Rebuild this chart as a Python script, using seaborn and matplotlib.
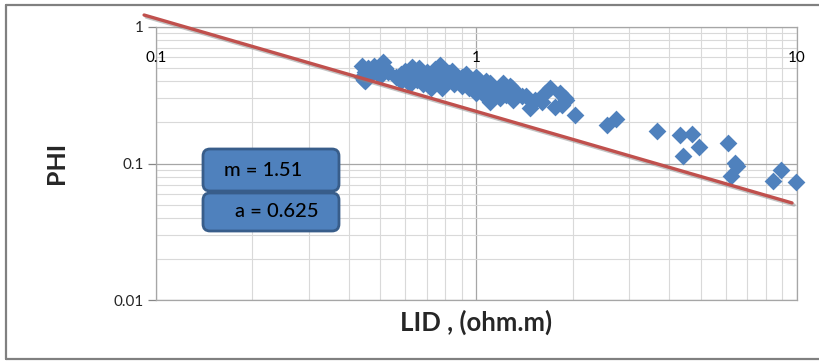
import numpy as np
import pandas as pd
import matplotlib
matplotlib.use("Agg")
import matplotlib.pyplot as plt
import matplotlib.patheffects as pe
from matplotlib.patches import FancyBboxPatch
from matplotlib.lines import Line2D
from matplotlib.transforms import IdentityTransform, blended_transform_factory
import seaborn as sns

# ---------------- data ----------------
lid = [0.44, 0.45, 0.44, 0.46, 0.47, 0.48, 0.49, 0.50, 0.45, 0.52, 0.53, 0.445, 0.51,
       0.58, 0.58, 0.60, 0.61, 0.62, 0.64, 0.65, 0.66, 0.67, 0.68, 0.70, 0.71, 0.72,
       0.74, 0.75, 0.76, 0.77, 0.78, 0.80, 0.80, 0.77, 0.56, 0.63, 0.69,
       0.82, 0.83, 0.85, 0.86, 0.88, 0.90, 0.90, 0.92, 0.94, 0.95, 0.84, 0.93,
       0.97, 0.99, 1.00, 1.03, 1.05, 1.07, 1.08, 1.00, 1.10, 1.04, 1.02,
       1.12, 1.15, 1.18, 1.20, 1.24, 1.27, 1.30, 1.33, 1.10, 1.21, 1.29, 1.15, 1.25,
       1.39, 1.47, 1.52, 1.60, 1.64, 1.70, 1.76, 1.82, 1.89, 1.85, 1.90, 1.43,
       2.03, 2.55, 2.72, 3.66, 4.31, 4.70, 4.41, 4.94, 6.09, 6.41, 6.50, 6.22,
       8.91, 8.41, 9.94]
phi = [0.52, 0.47, 0.43, 0.50, 0.45, 0.52, 0.47, 0.44, 0.40, 0.50, 0.47, 0.41, 0.55,
       0.45, 0.40, 0.48, 0.43, 0.38, 0.46, 0.41, 0.50, 0.44, 0.38, 0.47, 0.42, 0.36,
       0.49, 0.44, 0.40, 0.52, 0.36, 0.47, 0.42, 0.53, 0.43, 0.51, 0.40,
       0.46, 0.41, 0.38, 0.44, 0.40, 0.43, 0.37, 0.39, 0.42, 0.36, 0.48, 0.45,
       0.40, 0.36, 0.33, 0.38, 0.34, 0.40, 0.31, 0.43, 0.39, 0.33, 0.41,
       0.36, 0.33, 0.30, 0.35, 0.32, 0.37, 0.29, 0.33, 0.28, 0.39, 0.36, 0.33, 0.34,
       0.31, 0.255, 0.29, 0.28, 0.33, 0.36, 0.26, 0.33, 0.30, 0.27, 0.29, 0.31,
       0.226, 0.191, 0.212, 0.173, 0.162, 0.164, 0.1135, 0.132, 0.141, 0.101, 0.096, 0.081,
       0.0896, 0.0744, 0.0732]

line_lid = [0.0918, 9.65]
line_phi = [1.224, 0.0514]

x_ticks = [0.1, 1, 10]
x_tick_labels = ["0.1", "1", "10"]
y_ticks = [0.01, 0.1, 1]
y_tick_labels = ["0.01", "0.1", "1"]

box_texts = ["m = 1.51", "a = 0.625"]

# ---------------- style ----------------
sns.set_theme(style="white")
plt.rcParams["font.family"] = ["Lato", "DejaVu Sans"]

W, H = 820, 362
fig = plt.figure(figsize=(W / 100, H / 100), dpi=100)
fig.patch.set_facecolor("white")

L, R, T, B = 156, 797, 27, 300
ax = fig.add_axes([L / W, (H - B) / H, (R - L) / W, (B - T) / H])
ax.set_xscale("log")
ax.set_yscale("log")
ax.set_xlim(0.1, 10)
ax.set_ylim(0.01, 1)

df = pd.DataFrame({"LID": lid, "PHI": phi})
sns.scatterplot(data=df, x="LID", y="PHI", marker="D", color="#4F81BD",
                s=82, linewidth=0, ax=ax, zorder=3, clip_on=False)

ldf = pd.DataFrame({"LID": line_lid, "PHI": line_phi})
sns.lineplot(data=ldf, x="LID", y="PHI", color="#C0504D", linewidth=2.4,
             sort=False, ax=ax, zorder=4)
for ln in ax.lines:
    ln.set_clip_on(False)
    ln.set_path_effects([pe.SimpleLineShadow(offset=(1.5, -1.5), shadow_color="#888888", alpha=0.5),
                         pe.Normal()])

# grid
ax.grid(which="major", color="#A6A6A6", linewidth=0.9)
ax.grid(which="minor", color="#D9D9D9", linewidth=0.8)
ax.set_axisbelow(True)
for s in ax.spines.values():
    s.set_color("#A6A6A6")
    s.set_linewidth(0.9)

ax.set_yticks(y_ticks)
ax.set_yticklabels(y_tick_labels)
ax.tick_params(axis="y", which="major", length=6, color="#868686", width=0.9,
               labelsize=11, pad=3, left=True)
ax.tick_params(axis="y", which="minor", length=0)
ax.set_xticks(x_ticks)
ax.set_xticklabels([])
ax.tick_params(axis="x", which="both", length=0)

trans = blended_transform_factory(ax.transData, ax.transAxes)
for xv, lab in zip(x_ticks, x_tick_labels):
    ax.text(xv, (B - 58) / (B - T), lab, transform=trans, ha="center", va="center",
            fontsize=11, color="black", zorder=5)

ax.set_xlabel("")
ax.set_ylabel("")
fig.text(57 / W, 1 - 163 / H, "PHI", rotation=90, ha="center", va="center",
         fontsize=18, fontweight="bold")
fig.text(476 / W, 1 - 322 / H, "LID , (ohm.m)", ha="center", va="center",
         fontsize=18.5, fontweight="bold")

# annotation boxes (pixel coordinates, origin bottom-left)
boxes = [(203, 149, 339, 191, 263, 170), (203, 193, 339, 231, 277, 212)]
for (x0, y0, x1, y1, tx, ty), txt in zip(boxes, box_texts):
    p = FancyBboxPatch((x0, H - y1), x1 - x0, y1 - y0,
                       boxstyle="round,pad=0,rounding_size=7",
                       transform=IdentityTransform(), facecolor="#4F81BD",
                       edgecolor="#385D8A", linewidth=2.0, zorder=10)
    fig.patches.append(p)
    fig.text(tx / W, 1 - ty / H, txt, ha="center", va="center", fontsize=14.5,
             fontweight="medium", color="black", zorder=11)

# outer border
bc = "#808080"
fig.lines.extend([
    Line2D([6 / W, 1], [1 - 5 / H, 1 - 5 / H], transform=fig.transFigure, color=bc, lw=1.6),
    Line2D([6 / W, 6 / W], [1 - 5 / H, 1 - 359 / H], transform=fig.transFigure, color=bc, lw=1.6),
    Line2D([6 / W, 1], [1 - 359 / H, 1 - 359 / H], transform=fig.transFigure, color=bc, lw=1.6),
])

fig.savefig("out.png", dpi=100)
